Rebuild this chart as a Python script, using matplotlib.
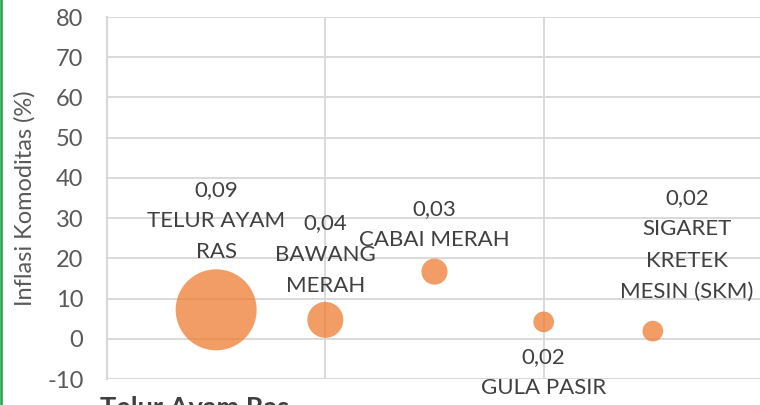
import matplotlib
matplotlib.use("Agg")
import matplotlib.pyplot as plt
from matplotlib.lines import Line2D

plt.rcParams['font.family'] = ['Lato', 'DejaVu Sans']
plt.rcParams['axes.unicode_minus'] = False

# ---- data ----
commodities = ["TELUR AYAM\nRAS", "BAWANG\nMERAH", "CABAI MERAH", "GULA PASIR", "SIGARET\nKRETEK\nMESIN (SKM)"]
x_pos = [0.5, 1.0, 1.5, 2.0, 2.5]
inflation = [7.2, 4.7, 16.7, 4.2, 1.9]
weights = [0.09, 0.04, 0.029, 0.023, 0.023]
y_ticks = [-10, 0, 10, 20, 30, 40, 50, 60, 70, 80]

# label offsets (points) relative to bubble centre
label_offsets = [(0, 64), (0, 47), (0, 34), (0, -36.5), (24.5, 62)]

W, H = 760, 405
fig = plt.figure(figsize=(W / 100, H / 100), dpi=100)
ax = fig.add_axes([107 / W, 26 / H, 655 / W, 362 / H])

grid_c = '#d9d9d9'
text_c = '#595959'

# bubble diameter proportional to weight (px per unit ~ 900)
px_per_unit = 900
sizes = [(w * px_per_unit * 0.72) ** 2 for w in weights]
ax.scatter(x_pos, inflation, s=sizes, color='#ED7D31', alpha=0.75,
           edgecolors='none', zorder=3, clip_on=False)

for xi, yi, w, name, off in zip(x_pos, inflation, weights, commodities, label_offsets):
    lbl = f"{w:.2f}".replace('.', ',') + "\n" + name
    ax.annotate(lbl, (xi, yi), xytext=off, textcoords='offset points',
                ha='center', va='center', fontsize=16, color='#404040',
                linespacing=1.7, annotation_clip=False, zorder=4)

ax.set_xlim(0, 3)
ax.set_ylim(-10, 80)
ax.set_yticks(y_ticks)
ax.set_xticks([0, 1, 2, 3])
ax.tick_params(axis='x', length=0, labelbottom=False)
ax.tick_params(axis='y', length=0, labelsize=17, labelcolor=text_c, pad=17)
ax.grid(True, color=grid_c, linewidth=1.4, zorder=0)
ax.set_axisbelow(True)
for s in ['top', 'right', 'bottom']:
    ax.spines[s].set_visible(False)
ax.spines['left'].set_color(grid_c)
ax.spines['left'].set_linewidth(1.6)

ax.set_ylabel("Inflasi Komoditas (%)", fontsize=17, color=text_c)
ax.yaxis.set_label_coords(-(107 - 36) / 655, (379 - 198) / 362)

# bottom caption (cut off by the frame)
fig.text(100 / W, -11 / H, "Telur Ayam Ras", fontsize=19.5, fontweight='bold',
         color='#404040', ha='left', va='baseline')

# green left border
fig.add_artist(Line2D([1.2 / W, 1.2 / W], [0, 1], transform=fig.transFigure,
                      color='#21A04A', linewidth=1.8))

fig.savefig("out.png", dpi=100)
